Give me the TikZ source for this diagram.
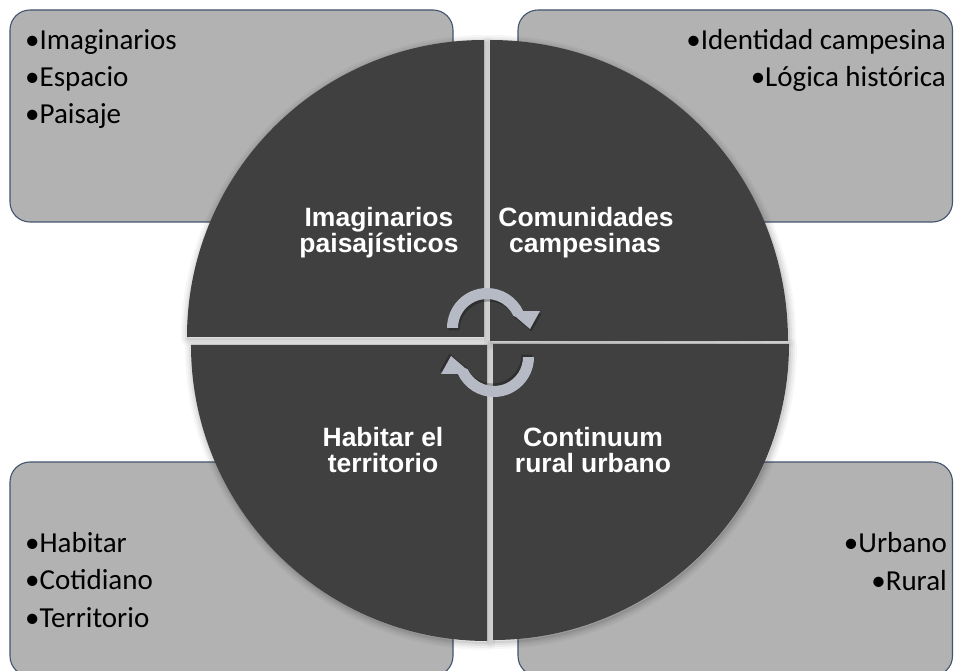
\documentclass[tikz,border=0pt]{standalone}
\usepackage{fontspec}
\setmainfont{Carlito}
\newfontfamily\labfont{Liberation Sans}
\definecolor{boxfill}{RGB}{178,178,178}
\definecolor{boxline}{RGB}{66,84,110}
\definecolor{quadfill}{RGB}{64,64,64}
\definecolor{arrowfill}{RGB}{182,186,196}
\newcommand\shadowedquad[1]{%
  \foreach \w/\o in {14/0.03,10/0.04,6/0.05,2/0.07}{%
    \draw[line width=\w pt, black, opacity=\o, line join=round, shift={(1,2)}] #1;}%
}
\tikzset{
  box/.style={fill=boxfill, draw=boxline, line width=1.1pt, rounded corners=20pt},
  quad/.style={fill=quadfill},
  bul/.style={font=\fontsize{29}{30}\selectfont, text=black, inner sep=0pt},
  lab/.style={font=\labfont\bfseries\fontsize{26.5}{26}\selectfont, text=white, inner sep=0pt, anchor=base},
  cyc/.pic={
    \fill[black, opacity=0.25, shift={(1.5,2.5)}] (-40,0) arc[start angle=180,end angle=335,radius=40] -- (53,-17) -- (43,1) -- (29,-11) -- (335:29) arc[start angle=335,end angle=180,radius=29] -- cycle;
    \fill[arrowfill] (-40,0) arc[start angle=180,end angle=335,radius=40] -- (53,-17) -- (43,1) -- (29,-11) -- (335:29) arc[start angle=335,end angle=180,radius=29] -- cycle;
  }
}
\begin{document}
\begin{tikzpicture}[x=1pt,y=-1pt]
\useasboundingbox (0,0) rectangle (954,671);
\clip (0,0) rectangle (954,671);
\fill[white] (0,0) rectangle (954,671);
% boxes
\draw[box] (10,10) rectangle (453,222);
\draw[box] (518,10) rectangle (952.5,222);
\draw[box] (10,462) rectangle (453,676);
\draw[box] (518,462) rectangle (952.5,676);
% box texts
\node[bul, anchor=base west] (t1) at (25,50) {•Imaginarios};
\node[bul, anchor=base west] (t2) at (25,87) {•Espacio};
\node[bul, anchor=base west] (t3) at (25,124) {•Paisaje};
\node[bul, anchor=base east] (r1) at (946,50) {•Identidad campesina};
\node[bul, anchor=base east] (r2) at (946,87) {•Lógica histórica};
\node[bul, anchor=base west] (b1) at (25,552) {•Habitar};
\node[bul, anchor=base west] (b2) at (25,589.5) {•Cotidiano};
\node[bul, anchor=base west] (b3) at (25,627) {•Territorio};
\node[bul, anchor=base east] (u1) at (947,552) {•Urbano};
\node[bul, anchor=base east] (u2) at (947,590) {•Rural};
% quadrant shadows
\shadowedquad{(484,337) -- (187,337) arc[start angle=180,end angle=270,radius=297] -- cycle}
\shadowedquad{(490,341) -- (490,40) arc[start angle=270,end angle=360,radius=298] -- cycle}
\shadowedquad{(487,345) -- (191,345) arc[start angle=180,end angle=90,radius=296] -- cycle}
\shadowedquad{(493,344) -- (789,344) arc[start angle=0,end angle=90,radius=296] -- cycle}
% quadrants
\fill[quad] (484,337) -- (187,337) arc[start angle=180,end angle=270,radius=297] -- cycle;
\fill[quad] (490,341) -- (490,40) .. controls (660,40) and (788,175) .. (788,341) -- cycle;
\fill[quad] (487,345) -- (191,345) arc[start angle=180,end angle=90,radius=296] -- cycle;
\fill[quad] (493,344) -- (789,344) arc[start angle=0,end angle=90,radius=296] -- cycle;
% labels
\node[lab] (l1a) at (379,227) {Imaginarios};
\node[lab] (l1b) at (379,253) {paisajísticos};
\node[lab] (l2a) at (586,227) {Comunidades};
\node[lab] (l2b) at (585,253) {campesinas};
\node[lab] (l3a) at (383,446) {Habitar el};
\node[lab] (l3b) at (383,472) {territorio};
\node[lab] (l4a) at (593,446) {Continuum};
\node[lab] (l4b) at (593,472) {rural urbano};
% cycle arrows
\pic at (487,328) {cyc};
\pic[rotate=180] at (494,357) {cyc};
\end{tikzpicture}
\end{document}
